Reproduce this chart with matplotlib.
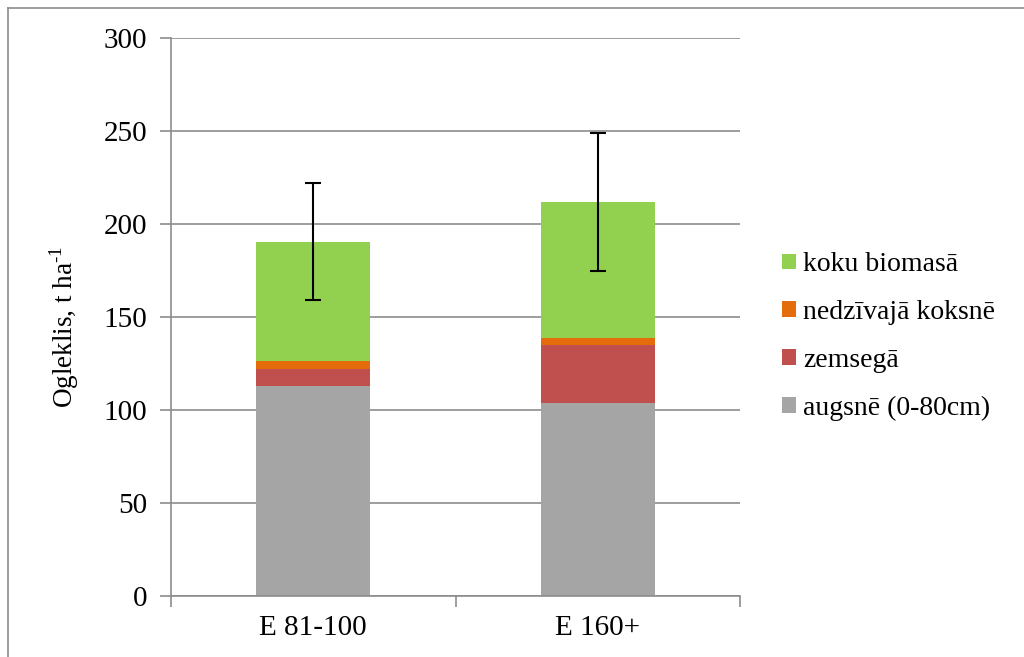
import matplotlib.pyplot as plt
from matplotlib.lines import Line2D
import numpy as np

plt.rcParams["font.family"] = ["Liberation Serif", "DejaVu Serif"]
plt.rcParams["mathtext.fontset"] = "custom"
plt.rcParams["mathtext.rm"] = "Liberation Serif"

categories = ["E 81-100", "E 160+"]
augsne = [112.9, 103.8]
zemsega = [9.0, 31.3]
nedzivaja = [4.6, 3.8]
koku = [64.0, 72.9]
err = [31.3, 37.2]

labels = ["augsnē (0-80cm)", "zemsegā", "nedzīvajā koksnē", "koku biomasā"]
colors = ["#a5a5a5", "#c0504d", "#e46c0a", "#92d050"]

fig = plt.figure(figsize=(10.24, 6.57), dpi=100)
ax = fig.add_axes([171 / 1024, 1 - 596 / 657, (740 - 171) / 1024, (596 - 38) / 657])

x = np.arange(len(categories))
bottom = np.zeros(len(categories))
handles = []
for vals, col, lab in zip([augsne, zemsega, nedzivaja, koku], colors, labels):
    b = ax.bar(x, vals, width=0.4, bottom=bottom, color=col, label=lab, zorder=2)
    handles.append(b)
    bottom = bottom + np.array(vals)

ax.errorbar(x, bottom, yerr=err, fmt="none", ecolor="black", elinewidth=1.5,
            capsize=6, capthick=1.5, zorder=3)

ax.set_xlim(-0.5, 1.5)
ax.set_ylim(0, 300)
ax.set_yticks(range(0, 301, 50))
ax.yaxis.grid(True, color="#8c8c8c", linewidth=1.2, zorder=0)
ax.set_axisbelow(True)

ax.set_xticks([-0.5, 0.5, 1.5], minor=False)
ax.set_xticklabels([])
ax.set_xticks(x, minor=True)
ax.set_xticklabels(categories, minor=True)
ax.tick_params(axis="x", which="major", direction="out", length=8, color="#8c8c8c", width=1.2)
ax.tick_params(axis="x", which="minor", length=0, pad=14, labelsize=21)
ax.tick_params(axis="y", direction="out", length=8, color="#8c8c8c", width=1.2, labelsize=21, pad=9)

for s in ["top", "right"]:
    ax.spines[s].set_visible(False)
for s in ["left", "bottom"]:
    ax.spines[s].set_color("#8c8c8c")
    ax.spines[s].set_linewidth(1.2)

ax.set_ylabel(r"Ogleklis, t ha$^{\text{-1}}$", fontsize=19.5, labelpad=16)
ax.yaxis.label.set_y(0.482)

leg = ax.legend(handles[::-1], labels[::-1], loc="center left", bbox_to_anchor=(1.03, 0.465),
                frameon=False, fontsize=20, handlelength=0.5, handleheight=0.5,
                handletextpad=0.25, labelspacing=0.82)

# outer frame (top and left edges)
fig.add_artist(Line2D([8 / 1024, 1.0], [1 - 8 / 657, 1 - 8 / 657], color="#8c8c8c", linewidth=1.2))
fig.add_artist(Line2D([8 / 1024, 8 / 1024], [0, 1 - 8 / 657], color="#8c8c8c", linewidth=1.2))

fig.savefig("out.png", dpi=100)
